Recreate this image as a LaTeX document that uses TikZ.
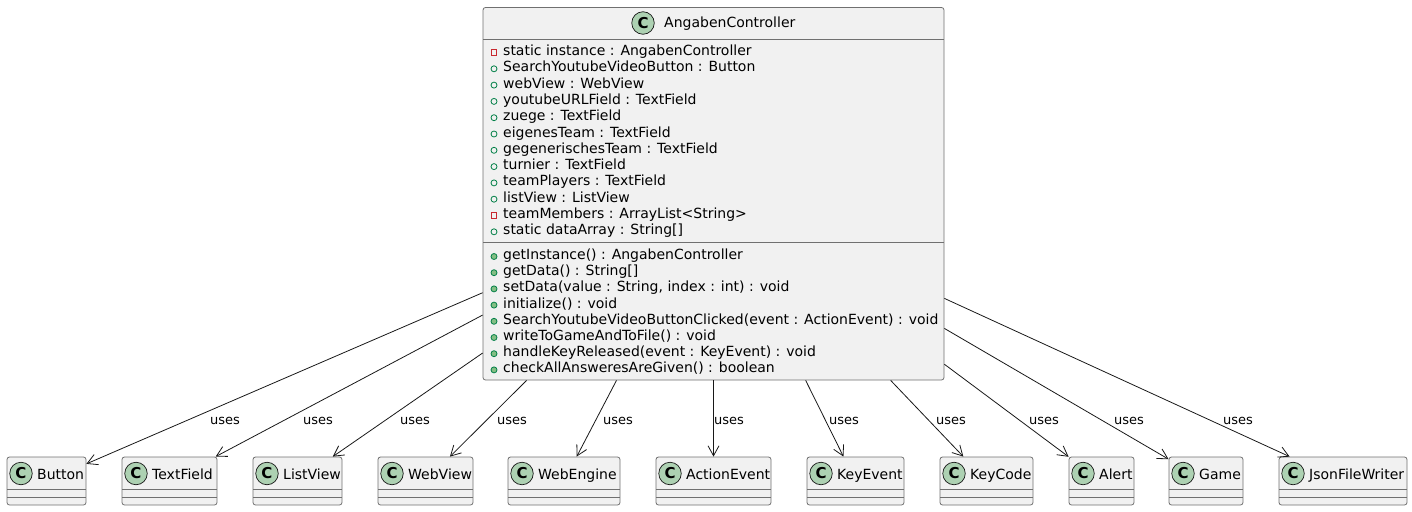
\documentclass[tikz,border=0pt]{standalone}
\usepackage{fontspec}
\setmainfont{DejaVu Sans}
\usetikzlibrary{arrows.meta}
\definecolor{boxfill}{HTML}{F1F1F1}
\definecolor{boxline}{HTML}{181818}
\definecolor{boxedge}{HTML}{707070}
\definecolor{cfill}{HTML}{ADD1B2}
\definecolor{privred}{HTML}{C82930}
\definecolor{pubgreen}{HTML}{038048}
\definecolor{pubfill}{HTML}{84BE84}
\begin{document}
\begin{tikzpicture}[x=1pt,y=-1pt,
  classbox/.style={draw=boxedge, fill=boxfill, line width=0.8pt, rounded corners=2.5pt, inner sep=0pt, rectangle},
  sepline/.style={draw=boxedge, line width=0.8pt},
  ctext/.style={font=\fontsize{14}{16}\selectfont, inner sep=0pt, anchor=base west},
  lbl/.style={font=\fontsize{13}{15}\selectfont, inner sep=0pt, anchor=base west},
  cicon/.style={circle, draw=boxline, fill=cfill, line width=0.7pt, minimum size=22.5pt, inner sep=0pt, font=\fontsize{15}{15}\selectfont\bfseries},
  privicon/.style={rectangle, draw=privred, line width=0.8pt, minimum size=5.5pt, inner sep=0pt},
  pubficon/.style={circle, draw=pubgreen, line width=0.8pt, minimum size=6pt, inner sep=0pt},
  pubmicon/.style={circle, draw=pubgreen, fill=pubfill, line width=0.8pt, minimum size=6pt, inner sep=0pt},
  uses/.style={draw=boxline, line width=0.8pt, -{Straight Barb[length=10pt,width=11pt]}},
]
\useasboundingbox (0,0) rectangle (1412,511);

% main class
\node[classbox, minimum width=461pt, minimum height=372.5pt] (main) at (713.5,193.75) {};
\draw[sepline] (483,39) -- (944,39);
\draw[sepline] (483,242.7) -- (944,242.7);
\node[cicon] (mainC) at (643,23) {C};
\node[ctext] (mainname) at (664,28) {AngabenController};

\foreach \v/\t [count=\i from 0] in {
  privicon/{static instance : AngabenController},
  pubficon/{SearchYoutubeVideoButton : Button},
  pubficon/{webView : WebView},
  pubficon/{youtubeURLField : TextField},
  pubficon/{zuege : TextField},
  pubficon/{eigenesTeam : TextField},
  pubficon/{gegenerischesTeam : TextField},
  pubficon/{turnier : TextField},
  pubficon/{teamPlayers : TextField},
  pubficon/{listView : ListView},
  privicon/{teamMembers : ArrayList<String>},
  pubficon/{static dataArray : String[]}} {
  \node[\v] (fi\i) at (494,{52.5+16.3*\i}) {};
  \node[ctext] (f\i) at (503,{55.5+16.3*\i}) {\t};
}

\foreach \t [count=\i from 0] in {
  {getInstance() : AngabenController},
  {getData() : String[]},
  {setData(value : String, index : int) : void},
  {initialize() : void},
  {SearchYoutubeVideoButtonClicked(event : ActionEvent) : void},
  {writeToGameAndToFile() : void},
  {handleKeyReleased(event : KeyEvent) : void},
  {checkAllAnsweresAreGiven() : boolean}} {
  \node[pubmicon] (mi\i) at (494,{256.5+16.2*\i}) {};
  \node[ctext] (m\i) at (503,{259.5+16.2*\i}) {\t};
}

% small classes
\foreach \n/\a/\b in {Button/7/86, TextField/122/217, ListView/253/342, WebView/378/473,
  WebEngine/508/620, ActionEvent/656/771, KeyEvent/807/904, KeyCode/940/1033,
  Alert/1069/1134, Game/1169/1243, JsonFileWriter/1279/1407} {
  \node[classbox, minimum width={(\b-\a)*1pt}, minimum height=48pt] (\n) at ({(\a+\b)/2},481) {};
  \draw[sepline] (\a,489) -- (\b,489);
  \draw[sepline] (\a,497) -- (\b,497);
  \node[cicon] (\n-c) at ({\a+14},473.5) {C};
  \node[ctext] (\n-t) at ({\a+30},479) {\n};
}

% connectors
\foreach \n in {Button, TextField, ListView, WebView, WebEngine, ActionEvent,
  KeyEvent, KeyCode, Alert, Game, JsonFileWriter} {
  \draw[uses] (main) -- (\n);
}

% labels
\foreach \x [count=\i] in {210,303,400,497,603,714,829,936,1029,1114,1223} {
  \node[lbl] (l\i) at (\x,424.5) {uses};
}
\end{tikzpicture}
\end{document}
